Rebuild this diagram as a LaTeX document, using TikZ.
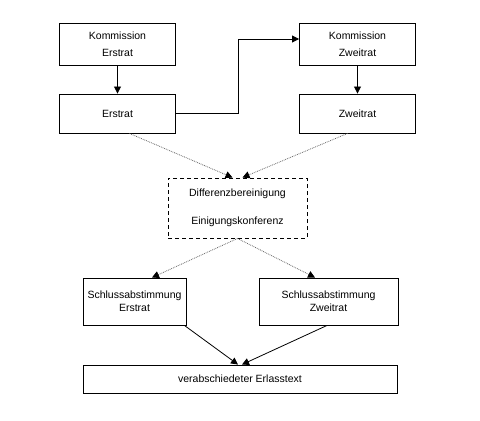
\documentclass[tikz,border=0pt]{standalone}
\usepackage{fontspec}
\setmainfont{Liberation Sans}
\usetikzlibrary{arrows.meta}
\begin{document}
\begin{tikzpicture}[x=1pt,y=-1pt,font=\fontsize{10.5}{13}\selectfont]
\tikzset{box/.style={draw,line width=.9pt,fill=white,align=center,inner sep=0pt},
 arr/.style={line width=.8pt,-{Triangle[width=7pt,length=7pt]}},
 dotline/.style={densely dotted,line width=.8pt,gray!80!black,-{Triangle[width=7pt,length=7pt,color=black]}}}
\useasboundingbox (0,0) rectangle (480,421);
% top row
\node[box,minimum width=116pt,minimum height=42pt] (komE) at (117.5,44) {Kommission\\[4pt]Erstrat};
\node[box,minimum width=116pt,minimum height=42pt] (komZ) at (357.5,44) {Kommission\\[4pt]Zweitrat};
\node[box,minimum width=116pt,minimum height=39pt] (erst) at (117.5,113.5) {Erstrat};
\node[box,minimum width=116pt,minimum height=39pt] (zweit) at (357.5,113.5) {Zweitrat};
% middle
\node[box,dashed,dash pattern=on 4pt off 3pt,minimum width=139pt,minimum height=60pt] (diff) at (237.5,208) {Differenzbereinigung\\[15pt]Einigungskonferenz};
% bottom
\node[box,minimum width=103pt,minimum height=47pt] (schlE) at (134.5,301.5) {Schlussabstimmung\\Erstrat};
\node[box,minimum width=139pt,minimum height=47pt] (schlZ) at (328.5,301.5) {Schlussabstimmung\\Zweitrat};
\node[box,minimum width=314pt,minimum height=28pt] (text) at (240,379) {verabschiedeter Erlasstext};
\draw[arr] (komE) -- (erst);
\draw[arr] (komZ) -- (zweit);
\draw[arr] (erst.east) -- ++(62,0) |- ([yshift=5pt]komZ.west);
\draw[dotline] ([xshift=12pt]erst.south) -- ([xshift=-5pt]diff.north);
\draw[dotline] ([xshift=-10pt]zweit.south) -- ([xshift=5pt]diff.north);
\draw[dotline] (diff.south) -- ([xshift=17.5pt]schlE.north);
\draw[dotline] (diff.south) -- ([xshift=-13.5pt]schlZ.north);
\draw[arr] ([xshift=-2pt]schlE.south east) -- ([xshift=-2pt]text.north);
\draw[arr] ([xshift=-1.5pt]schlZ.south) -- ([xshift=2pt]text.north);
\end{tikzpicture}
\end{document}
